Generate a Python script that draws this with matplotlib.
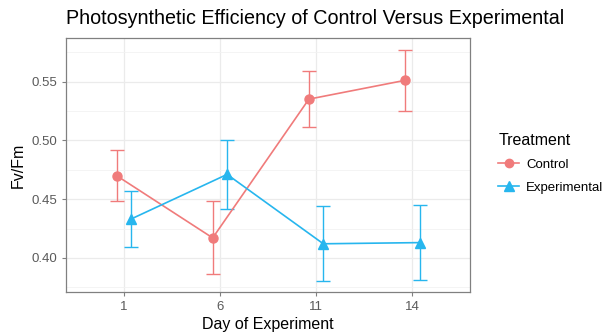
import matplotlib
matplotlib.use("Agg")
import matplotlib.pyplot as plt
from matplotlib.lines import Line2D
import numpy as np

plt.rcParams["font.family"] = ["Liberation Sans", "DejaVu Sans"]

days = ["1", "6", "11", "14"]
control = [0.470, 0.417, 0.535, 0.551]
control_err = [0.022, 0.031, 0.024, 0.026]
experimental = [0.433, 0.471, 0.412, 0.413]
experimental_err = [0.024, 0.029, 0.032, 0.032]

ctrl_col = "#F07B7B"
exp_col = "#27B6EE"

fig = plt.figure(figsize=(6.03, 3.36), dpi=100)
ax = fig.add_axes([66 / 603, 1 - 292 / 336, (470 - 66) / 603, (292 - 38) / 336])

x = np.arange(1, len(days) + 1)
dodge = 0.075

# control series
ax.errorbar(x - dodge, control, yerr=control_err, color=ctrl_col, lw=1.2,
            capsize=5, capthick=1.0, elinewidth=1.0, marker="o", ms=6.5, zorder=3)
# experimental series
ax.errorbar(x + dodge, experimental, yerr=experimental_err, color=exp_col, lw=1.2,
            capsize=5, capthick=1.0, elinewidth=1.0, marker="^", ms=7.5, zorder=3)

ax.set_xlim(0.4, 4.6)
ax.set_ylim(0.371, 0.587)
ax.set_xticks(x)
ax.set_xticklabels(days)
ax.set_yticks([0.40, 0.45, 0.50, 0.55])
ax.set_yticks([0.375, 0.425, 0.475, 0.525, 0.575], minor=True)
ax.grid(which="major", color="#EBEBEB", lw=0.9, zorder=0)
ax.grid(which="minor", axis="y", color="#F2F2F2", lw=0.6, zorder=0)
ax.set_axisbelow(True)
for s in ax.spines.values():
    s.set_color("#808080")
    s.set_linewidth(0.9)
ax.tick_params(which="major", colors="#808080", labelcolor="#5A5A5A", labelsize=9.5, length=3)
ax.tick_params(which="minor", length=0)

ax.set_xlabel("Day of Experiment", fontsize=11.5, color="black", labelpad=3)
ax.set_ylabel("Fv/Fm", fontsize=11.5, color="black", labelpad=4)
fig.text(66 / 603, 1 - 18 / 336, "Photosynthetic Efficiency of Control Versus Experimental",
         fontsize=14.2, ha="left", va="center")

# legend
handles = [
    Line2D([], [], color=ctrl_col, marker="o", ms=6, lw=1.2),
    Line2D([], [], color=exp_col, marker="^", ms=7, lw=1.2),
]
fig.legend(handles, ["Control", "Experimental"], title="Treatment",
           loc="upper left", bbox_to_anchor=(489 / 603, 1 - 124 / 336),
           frameon=False, fontsize=9.5, title_fontsize=11.5, handlelength=1.6,
           alignment="left", labelspacing=0.8, handletextpad=0.5, borderpad=0.2)

fig.savefig("out.png", dpi=100)
